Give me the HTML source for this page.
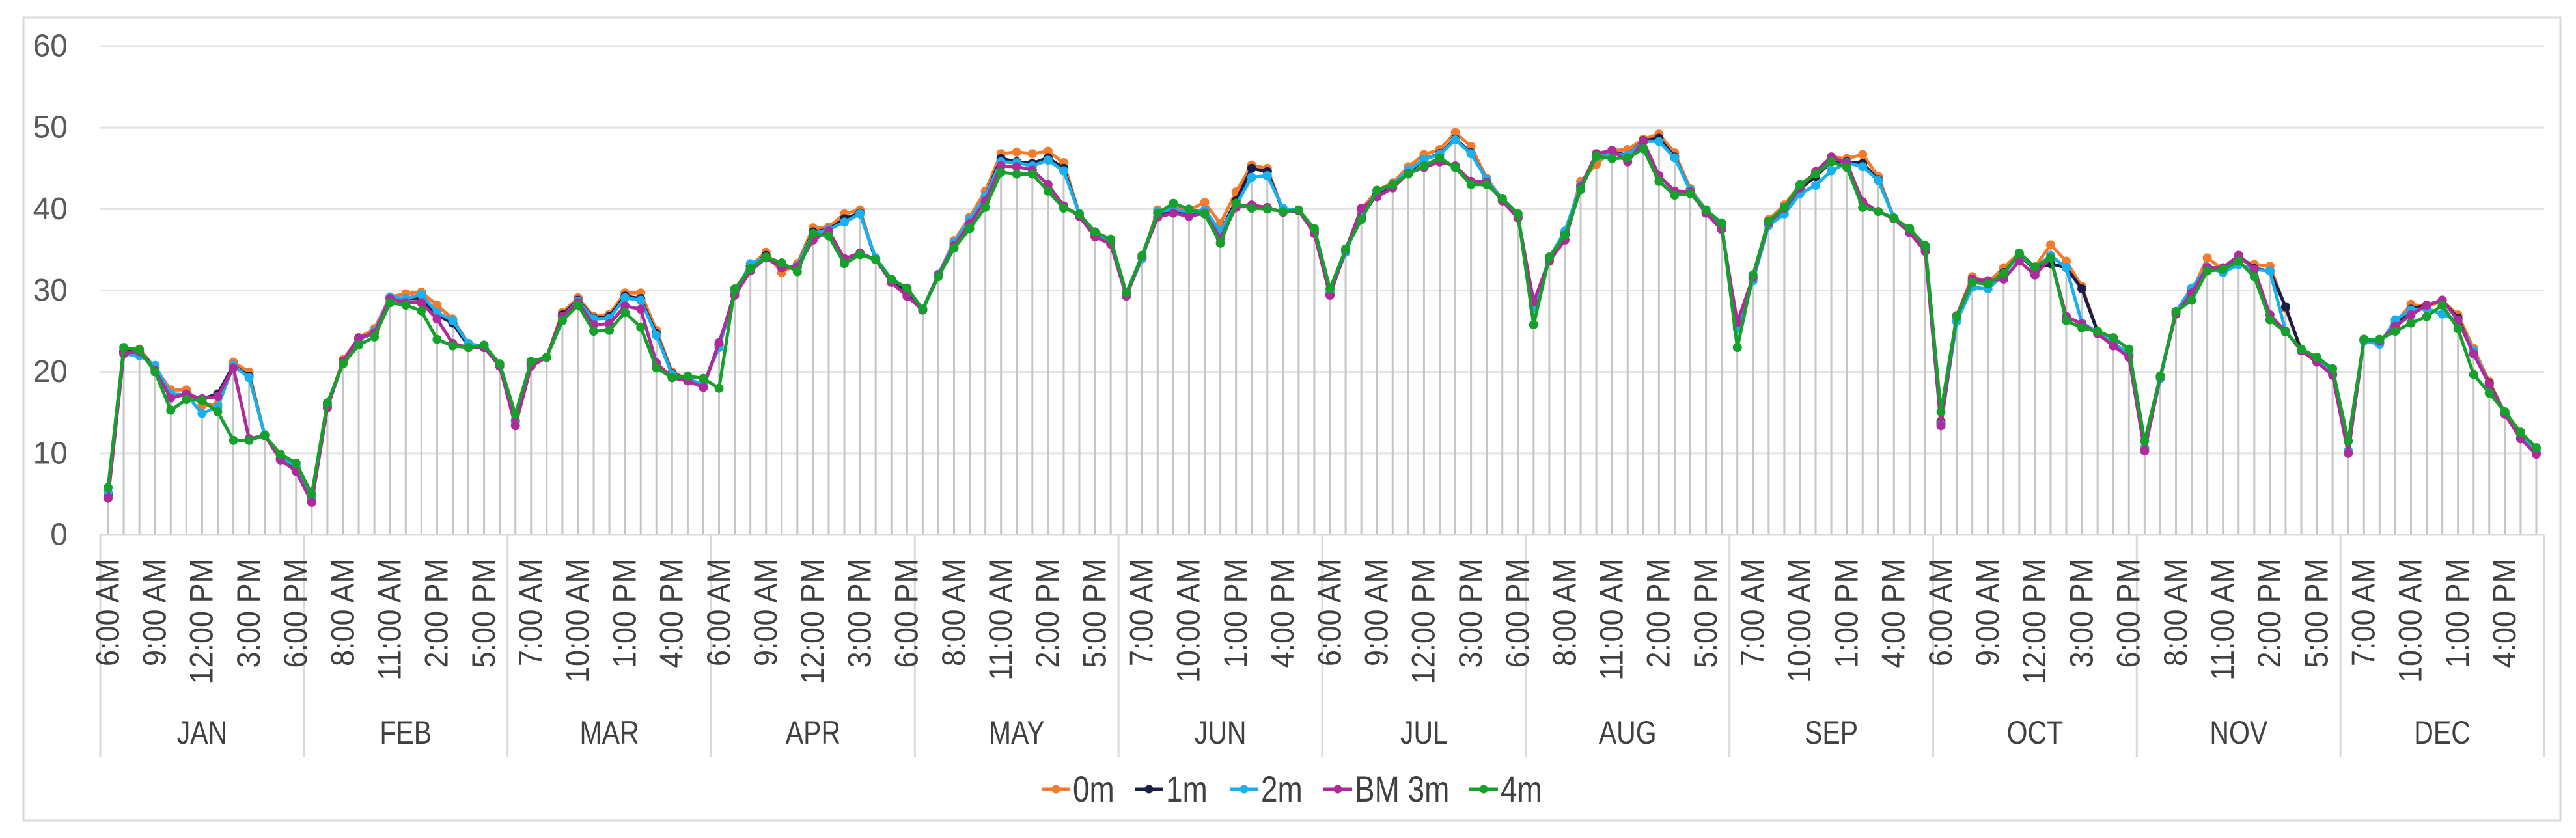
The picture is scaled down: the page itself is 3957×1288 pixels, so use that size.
<!DOCTYPE html>
<html><head><meta charset="utf-8"><style>
html,body{margin:0;padding:0;background:#fff;}
svg{display:block;font-family:"Liberation Sans",sans-serif;}
</style></head><body>
<svg id="chart" width="3957" height="1288" viewBox="0 0 3957 1288" xmlns="http://www.w3.org/2000/svg">
<rect x="36" y="27" width="3897" height="1234" fill="#fff" stroke="#D9D9D9" stroke-width="3"/>
<g id="grid"></g>
<g id="drops"></g>
<g id="yaxis"></g>
<g id="xaxis"></g>
<g id="series"></g>
<g id="legend"></g>
</svg>
<script>
const months = ["JAN","FEB","MAR","APR","MAY","JUN","JUL","AUG","SEP","OCT","NOV","DEC"];
const hoursPerMonth = [6,7,8,9,10,11,12,13,14,15,16,17,18];
const yTicks = [0,10,20,30,40,50,60];
const seriesNames = ["0m","1m","2m","BM 3m","4m"];
const seriesColors = ["#F47A2C","#1B1F46","#1AB0EE","#B02A9C","#16A02C"];
const s0m = [4.6,22.5,22.8,20.5,17.8,17.8,15.9,16,21.2,20,12.2,9.4,8.3,
4,15.8,21.5,24.2,25.3,29.2,29.6,29.8,28.2,26.5,23.5,23,20.8,
13.9,21,21.8,27.3,29.1,26.8,27.1,29.7,29.7,25.1,20,19.1,18.5,
23.3,29.8,33,34.7,32.2,33.3,37.7,37.8,39.4,39.9,33.8,31.4,30.3,27.7,
31.9,36.1,39,42.2,46.8,47,46.8,47.1,45.7,39.4,36.9,36,
29.5,34,39.9,40.2,39.9,40.8,38.2,42.1,45.4,45,39.8,39.8,37.3,
29.6,34.9,39.9,42.3,43.2,45.2,46.7,47.3,49.4,47.7,43.8,41.2,39.1,
28.4,33.9,36.8,43.4,45.5,47.2,47.3,48.6,49.2,46.9,42.5,39.9,37.8,
25.8,31.7,38.7,40.5,43,44.4,46.4,46.2,46.7,44,38.9,37.3,35.1,
14,26.9,31.7,31,32.8,34.6,32.9,35.6,33.6,30.5,24.9,23.5,22.2,
10.7,19.3,27.4,29.8,34,32.6,33.8,33.2,33,27.8,22.7,21.6,19.8,
10.2,24,23.6,26,28.3,28,28.7,27,22.9,18.8,15,12,10.1];
const s1m = [5,22.5,22.5,20.5,17,17.2,16.7,17.3,20.8,19.5,12.2,9.3,8,
4.3,15.9,21.2,24,24.8,29.1,29,29,27,26,23.2,23,20.8,
14,21,21.8,27,28.8,26.6,26.8,29.3,29,24.7,19.8,19.1,18.4,
23.3,29.7,33,34.3,32.8,33,37.2,37.5,38.8,39.5,33.8,31.2,30,27.6,
31.9,35.8,38.6,41.6,46.2,45.8,45.6,46.3,45,39.4,36.8,36,
29.5,34,39.5,39.7,39.5,39.8,37.2,41,45,44.6,39.8,39.8,37.2,
29.6,34.9,39,41.9,43,44.5,46.1,46.8,48.6,46.9,43.6,41.1,39,
28.2,33.9,37,42.9,46.5,47,46.6,48.4,48.7,46.4,42.3,39.8,37.7,
25.5,31.5,38.3,40,42.5,44,45.8,45.8,45.6,43.6,38.9,37.2,35,
13.8,26.8,31.2,30.7,32.2,34.4,32.6,33.3,32.8,30.2,24.9,23.4,22,
10.6,19.4,27.4,29.9,32.9,32.6,34.3,32.7,32.4,28,22.6,21.4,19.7,
10.3,23.9,23.6,25.8,27.7,28.2,28.8,26.6,22.4,18.6,14.9,11.8,10];
const s2m = [5.2,22.2,22,20.8,17.3,17.2,14.9,15.7,20.8,19.3,12.3,9.5,8.5,
4.5,15.8,21.1,23.9,25,29.2,29,29.5,27.3,26.3,23.5,23.1,20.9,
13.9,21,21.8,26.8,28.7,26.5,26.6,29.1,28.8,24.5,19.7,19.1,18.5,
23,29.6,33.3,34.1,32.9,33,37,37.5,38.4,39.4,34,31.4,30.3,27.7,
32,35.9,38.7,41.6,45.8,45.7,45.3,46,44.7,39.4,36.8,35.9,
29.5,33.9,39.7,39.9,39.7,39.9,37.3,40.5,43.9,44.1,40.1,39.8,37.2,
29.7,34.7,39.3,42.2,43,44.8,46.1,46.7,48.5,46.8,43.6,41.2,39.1,
27.9,34,37.3,42.9,46.4,46.8,46.6,48.3,48.3,46.3,42.3,39.9,37.8,
25.3,31.2,38,39.4,41.9,42.9,44.7,45.7,45.2,43.5,38.9,37.3,35.1,
13.6,26.2,30.4,30.2,32,34.4,32.8,34.3,32.8,26,24.9,23.5,22.3,
10.6,19.2,27.4,30.3,32.9,32.2,33.2,32.6,32.4,25,22.7,21.6,19.8,
10.3,23.8,23.4,26.4,27.6,27.8,27.1,26.3,22.6,18.4,15,12,10.2];
const s3m = [4.5,22.3,22.5,20.2,16.8,17.3,16.7,17,20.5,11.8,12.2,9.2,7.8,
4,15.6,21.3,24.2,24.8,29,28.5,28.5,26.5,23.5,23,23,20.7,
13.4,20.7,21.8,26.8,28.5,25.8,25.9,28.1,27.7,21.1,19.3,18.9,18.1,
23.6,29.4,32.4,34,32.8,32.9,36.2,37.3,33.9,34.6,33.8,31,29.3,27.6,
31.9,35.5,38.2,41,45.3,45.2,44.8,43,40.4,39.1,36.6,35.7,
29.3,34.2,39,39.5,39.1,39.5,36.4,40.2,40.5,40.2,39.6,39.8,37,
29.4,35,40.1,41.5,42.6,44.4,45.1,45.8,45.3,43.4,43.3,41,38.9,
28.6,33.6,36.2,42.7,46.8,47.2,45.8,48.3,44.1,42.2,42.1,39.5,37.5,
26.1,31.6,38.3,40.1,42.6,44.6,46.4,45.6,40.9,39.7,38.8,37.1,34.8,
13.4,26.9,31.4,31.2,31.4,33.6,31.9,34,26.8,25.9,24.7,23.2,21.8,
10.3,19.4,27.1,29.7,32.8,32.8,34.3,32.6,27,25,22.6,21.2,19.6,
10,24,23.8,25.6,27,28.2,28.8,26.4,22.2,18.5,14.8,11.8,9.9];
const s4m = [5.8,23,22.7,20,15.3,16.6,16.5,15.1,11.6,11.6,12.2,9.9,8.8,
5,16.2,21,23.3,24.3,28.5,28.2,27.5,24,23.2,23,23.3,21,
14.8,21.3,21.8,26.3,28.2,25,25.1,27.3,25.5,20.5,19.3,19.5,19.2,
18,30.2,32.7,34.1,33.4,32.3,37,36.7,33.3,34.4,33.8,31.4,30.3,27.7,
31.7,35.2,37.6,40.2,44.5,44.3,44.3,42.2,40.1,39.4,37.2,36.3,
29.7,34.3,39.5,40.7,40,39.4,35.8,40.7,40.1,40,39.7,39.9,37.6,
30.2,35.1,38.7,42.3,43,44.3,45.3,46.3,45.1,43,43,41.3,39.4,
25.8,34.1,36.8,42.4,46.5,46.2,46.3,47.4,43.4,41.7,41.9,39.9,38.3,
23,31.9,38.5,40.2,43,44.3,45.8,45.1,40.2,39.7,38.9,37.6,35.5,
15.1,26.8,31,30.8,32.1,34.6,32.9,34,26.3,25.4,25,24.2,22.8,
11.5,19.5,27.4,28.8,32.4,32.6,33.6,31.7,26.4,24.9,22.8,21.8,20.4,
11.5,24,24,25,26,26.8,28.2,25.3,19.7,17.4,15.1,12.6,10.7];
const allSeries = [s0m,s1m,s2m,s3m,s4m];

const NS = "http://www.w3.org/2000/svg";
const plotL = 154, plotR = 3908, yZero = 822, yTop = 71;
const nCat = months.length * hoursPerMonth.length;
const catW = (plotR - plotL) / nCat;
function xPos(i){ return plotL + (i + 0.5) * catW; }
function yPos(v){ return yZero - (v / 60) * (yZero - yTop); }
function mk(tag, attrs, parent){
  const e = document.createElementNS(NS, tag);
  for (const k in attrs) e.setAttribute(k, attrs[k]);
  parent.appendChild(e);
  return e;
}
function hourLabel(h){ const ap = h < 12 ? "AM" : "PM"; let hh = h % 12; if (hh === 0) hh = 12; return hh + ":00 " + ap; }

const grid = document.getElementById('grid');
const yaxis = document.getElementById('yaxis');
yTicks.forEach(t => {
  if (t > 0) {
    const g = mk('line', {x1: plotL, x2: plotR, y1: yPos(t), y2: yPos(t), stroke: '#E3E3E3', 'stroke-width': 3}, grid);
    
    
  }
  const lb = mk('text', {x: 104, y: yPos(t), 'text-anchor': 'end', 'dominant-baseline': 'central', 'font-size': 48, fill: '#595959'}, yaxis);
  lb.textContent = t;
  
  
});

const xaxis = document.getElementById('xaxis');
const axl = mk('line', {x1: plotL, x2: plotR, y1: yZero, y2: yZero, stroke: '#D9D9D9', 'stroke-width': 3}, xaxis);


for (let m = 0; m <= months.length; m++) {
  const bx = plotL + m * hoursPerMonth.length * catW;
  const sep = mk('line', {x1: bx, x2: bx, y1: yZero, y2: 1163, stroke: '#D9D9D9', 'stroke-width': 3}, xaxis);
  
  
}
months.forEach((mName, m) => {
  const cx = plotL + (m + 0.5) * hoursPerMonth.length * catW;
  const t = mk('text', {x: 0, y: 0, 'text-anchor': 'middle', 'dominant-baseline': 'central', 'font-size': 50, fill: '#404040', transform: 'translate(' + cx + ',1126) scale(0.82,1)'}, xaxis);
  t.textContent = mName;
  
  
});
for (let i = 0; i < nCat; i++) {
  if (i % 3 !== 0) continue;
  const h = hoursPerMonth[i % hoursPerMonth.length];
  const t = mk('text', {x: 0, y: 0, 'text-anchor': 'end', 'dominant-baseline': 'central', 'font-size': 50, fill: '#404040', transform: 'translate(' + xPos(i) + ',859) rotate(-90) scale(0.9,1)'}, xaxis);
  t.textContent = hourLabel(h);
  
  
}

const drops = document.getElementById('drops');
for (let i = 0; i < nCat; i++) {
  const mx = Math.max(...allSeries.map(s => s[i]));
  const d = mk('line', {x1: xPos(i), x2: xPos(i), y1: yPos(mx), y2: yZero, stroke: '#C6C6C6', 'stroke-width': 3}, drops);
  
  
}

const sg = document.getElementById('series');
allSeries.forEach((data, si) => {
  const g = mk('g', {}, sg);
  
  
  const pts = data.map((v, i) => xPos(i).toFixed(1) + ',' + yPos(v).toFixed(1)).join(' ');
  const pl = mk('polyline', {points: pts, fill: 'none', stroke: seriesColors[si], 'stroke-width': 5, 'stroke-linejoin': 'round'}, g);
  
  
  data.forEach((v, i) => {
    const c = mk('circle', {cx: xPos(i), cy: yPos(v), r: 6.5, fill: seriesColors[si], stroke: seriesColors[si], 'stroke-width': 1}, g);
    
    
  });
});

const lg = document.getElementById('legend');
const legX = [1600, 1743, 1889, 2033, 2257];
seriesNames.forEach((n, si) => {
  const g = mk('g', {}, lg);
  
  
  const x = legX[si];
  mk('line', {x1: x, x2: x + 44, y1: 1213, y2: 1213, stroke: seriesColors[si], 'stroke-width': 5}, g);
  mk('circle', {cx: x + 22, cy: 1213, r: 6.5, fill: seriesColors[si]}, g);
  const t = mk('text', {x: 0, y: 0, 'dominant-baseline': 'central', 'font-size': 56, fill: '#404040', transform: 'translate(' + (x + 48) + ',1213) scale(0.82,1)'}, g);
  t.textContent = n;
});
</script>
</body></html>
